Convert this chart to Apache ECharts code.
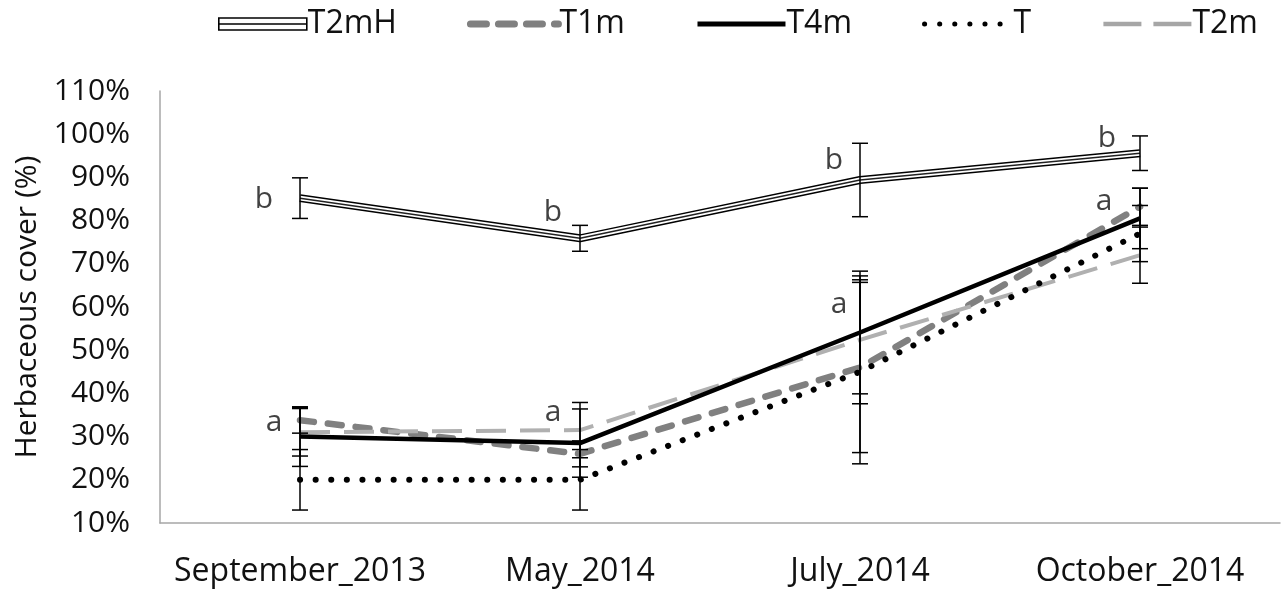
<!DOCTYPE html>
<html>
<head>
<meta charset="utf-8">
<script src="https://cdn.jsdelivr.net/npm/echarts@6/dist/echarts.min.js"></script>
<style>html,body{margin:0;padding:0;background:#fff}#c{width:1282px;height:592px}</style>
</head>
<body>
<div id="c"></div>
<script>
var categories = ['September_2013', 'May_2014', 'July_2014', 'October_2014'];
var yTicks = [10, 20, 30, 40, 50, 60, 70, 80, 90, 100, 110];

var T2mH = [85.2, 75.9, 89.4, 95.6];
var T2mH_err = [4.7, 3.0, 8.5, 4.0];
var T1m = [33.8, 26.0, 46.0, 83.2];
var T1m_err = [3.0, 3.0, 19.7, 4.3];
var T4m = [30.0, 28.5, 54.1, 80.5];
var T4m_err = [6.9, 7.9, 14.2, 7.0];
var T = [20.0, 20.0, 45.0, 77.0];
var T_err = [7.0, 7.0, 21.3, 6.5];
var T2m = [31.0, 31.5, 52.4, 72.0];
var T2m_err = [5.5, 6.4, 14.8, 6.5];

var annCats = ['September_2013', 'September_2013', 'May_2014', 'May_2014', 'July_2014', 'July_2014', 'October_2014', 'October_2014'];
var annVals = [85.0, 33.2, 81.8, 35.5, 94.0, 60.5, 99.0, 84.5];
var annText = ['b', 'a', 'b', 'a', 'b', 'a', 'b', 'a'];
var annDx = [-36, -26, -27, -27, -26, -21, -33, -36];

var FONT = 'Open Sans';
var FS = 30;
var TXT = '#111';
var chart = echarts.init(document.getElementById('c'));

function errSeries(vals, errs) {
  return {
    type: 'custom',
    silent: true,
    z: 5,
    data: vals.map(function (v, i) { return [i, v - errs[i], v + errs[i]]; }),
    renderItem: function (params, api) {
      var lo = api.coord([api.value(0), api.value(1)]);
      var hi = api.coord([api.value(0), api.value(2)]);
      var w = 8;
      var st = { stroke: '#000', lineWidth: 1.5 };
      return {
        type: 'group',
        children: [
          { type: 'line', shape: { x1: hi[0], y1: hi[1], x2: lo[0], y2: lo[1] }, style: st },
          { type: 'line', shape: { x1: hi[0] - w, y1: hi[1], x2: hi[0] + w, y2: hi[1] }, style: st },
          { type: 'line', shape: { x1: lo[0] - w, y1: lo[1], x2: lo[0] + w, y2: lo[1] }, style: st }
        ]
      };
    }
  };
}

var hidden = { opacity: 0 };
var option = {
  backgroundColor: '#fff',
  animation: false,
  textStyle: { fontFamily: FONT },
  legend: {
    top: 3,
    left: 213,
    itemWidth: 88,
    itemHeight: 12,
    itemGap: 70,
    symbolKeepAspect: false,
    textStyle: { fontFamily: FONT, fontSize: 32, color: TXT, padding: [0, 0, 0, -4] },
    data: [
      { name: 'T2mH', icon: 'path://M0,0 H88 V10 H0 Z M0,5 H88',
        itemStyle: { color: '#fff', borderColor: '#000', borderWidth: 1.6 } },
      { name: 'T1m', itemStyle: hidden,
        lineStyle: { color: '#808080', width: 7, type: [16, 12], cap: 'round', opacity: 1 } },
      { name: 'T4m', itemStyle: hidden,
        lineStyle: { color: '#000', width: 5, type: 'solid', opacity: 1 } },
      { name: 'T', itemStyle: hidden,
        lineStyle: { color: '#000', width: 5, type: [0.1, 15], cap: 'round', opacity: 1 } },
      { name: 'T2m', itemStyle: hidden,
        lineStyle: { color: '#a6a6a6', width: 4.5, type: [38, 12], opacity: 1 } }
    ]
  },
  grid: { left: 160, right: 2, top: 91, bottom: 69, containLabel: false },
  xAxis: {
    type: 'category',
    data: categories,
    boundaryGap: true,
    axisLine: { lineStyle: { color: '#a6a6a6', width: 1.5 } },
    axisTick: { show: false },
    axisLabel: { fontFamily: FONT, fontSize: 32, color: TXT, margin: 33, interval: 0 }
  },
  yAxis: {
    type: 'value',
    min: yTicks[0],
    max: yTicks[yTicks.length - 1],
    interval: 10,
    name: 'Herbaceous cover (%)',
    nameLocation: 'middle',
    nameGap: 116,
    nameTextStyle: { fontFamily: FONT, fontSize: FS, color: TXT },
    axisLine: { show: true, lineStyle: { color: '#a6a6a6', width: 1.5 } },
    axisTick: { show: false },
    splitLine: { show: false },
    axisLabel: { fontFamily: FONT, fontSize: FS, color: TXT, margin: 30, formatter: '{value}%' }
  },
  series: [
    { name: 'T2mH', type: 'line', data: T2mH, symbol: 'none', z: 3,
      lineStyle: { color: '#000', width: 8 }, itemStyle: { color: '#000' } },
    { name: 'T2mH_w', type: 'line', data: T2mH, symbol: 'none', z: 3,
      lineStyle: { color: '#fff', width: 5 } },
    { name: 'T2mH_c', type: 'line', data: T2mH, symbol: 'none', z: 3,
      lineStyle: { color: '#222', width: 1.5 } },
    { name: 'T1m', type: 'line', data: T1m, symbol: 'none', z: 3,
      lineStyle: { color: '#808080', width: 6.5, type: [14, 14], cap: 'round' }, itemStyle: { color: '#808080' } },
    { name: 'T4m', type: 'line', data: T4m, symbol: 'none', z: 4,
      lineStyle: { color: '#000', width: 4.5 }, itemStyle: { color: '#000' } },
    { name: 'T', type: 'line', data: T, symbol: 'none', z: 4,
      lineStyle: { color: '#000', width: 6, type: [0.1, 15.5], cap: 'round' }, itemStyle: { color: '#000' } },
    { name: 'T2m', type: 'line', data: T2m, symbol: 'none', z: 3,
      lineStyle: { color: '#b0b0b0', width: 4, type: [30, 14] }, itemStyle: { color: '#b0b0b0' } },
    errSeries(T2mH, T2mH_err),
    errSeries(T1m, T1m_err),
    errSeries(T4m, T4m_err),
    errSeries(T, T_err),
    errSeries(T2m, T2m_err),
    {
      type: 'scatter', silent: true, symbolSize: 0, z: 6,
      data: annCats.map(function (c, i) {
        return {
          value: [c, annVals[i]],
          label: { show: true, formatter: annText[i], offset: [annDx[i], 0] }
        };
      }),
      label: { position: 'inside', fontFamily: FONT, fontSize: FS, color: TXT }
    }
  ]
};
chart.setOption(option);
</script>
</body>
</html>
